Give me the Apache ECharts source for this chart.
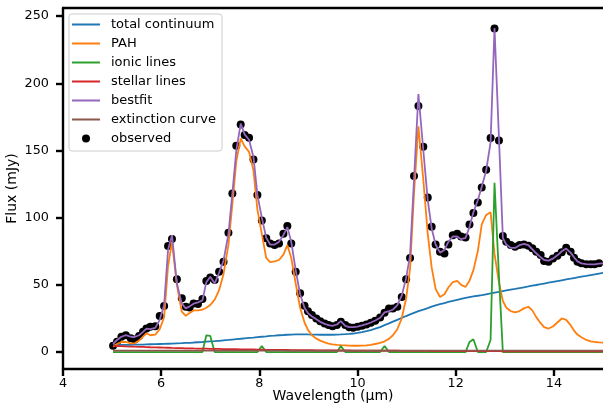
<!DOCTYPE html>
<html>
<head>
<meta charset="utf-8">
<script src="https://cdn.jsdelivr.net/npm/echarts@6/dist/echarts.min.js"></script>
<style>
  html, body { margin: 0; padding: 0; background: #fff; }
  #chart { width: 603px; height: 410px; }
</style>
</head>
<body>
<div id="chart"></div>
<script>
// Wavelength grid of the spectrum (micron)
const wavelength = [
  5.02, 5.10, 5.19, 5.28, 5.38, 5.46, 5.55, 5.63, 5.70, 5.78,
  5.88, 5.97, 6.06, 6.14, 6.22, 6.32, 6.42, 6.50, 6.58, 6.66,
  6.75, 6.84, 6.92, 7.00, 7.09, 7.18, 7.27, 7.37, 7.45, 7.53,
  7.62, 7.70, 7.79, 7.88, 7.96, 8.05, 8.14, 8.22, 8.31, 8.40,
  8.49, 8.57, 8.65, 8.74, 8.83, 8.92, 8.99, 9.07, 9.16, 9.24,
  9.33, 9.41, 9.49, 9.58, 9.66, 9.75, 9.83, 9.91, 10.00, 10.09,
  10.18, 10.27, 10.36, 10.46, 10.55, 10.64, 10.72, 10.81, 10.90, 10.99,
  11.07, 11.15, 11.24, 11.34, 11.43, 11.51, 11.59, 11.68, 11.77, 11.85,
  11.94, 12.03, 12.11, 12.20, 12.28, 12.36, 12.45, 12.53, 12.62, 12.71,
  12.79, 12.88, 12.96, 13.03, 13.12, 13.21, 13.30, 13.39, 13.48, 13.56,
  13.64, 13.73, 13.80, 13.89, 13.98, 14.07, 14.16, 14.25, 14.34, 14.41,
  14.48, 14.56, 14.66, 14.75, 14.83, 14.92, 15.01
];

// Measured flux (mJy)
const observedFlux = [
  4.7, 7.7, 11.4, 12.6, 10.2, 9.4, 11.9, 15.1, 17.6, 18.8,
  19.3, 26.8, 34.2, 78.9, 84.1, 54.1, 40.0, 33.7, 33.2, 36.2,
  35.7, 39.4, 52.8, 55.5, 53.6, 59.7, 67.2, 88.8, 118.0, 153.5,
  169.4, 161.5, 159.5, 143.3, 116.8, 97.8, 84.6, 80.8, 79.6, 80.8,
  88.0, 93.8, 80.8, 59.7, 43.8, 34.5, 30.3, 27.5, 25.0, 23.0,
  21.3, 20.1, 19.3, 20.1, 22.5, 20.1, 18.4, 18.1, 18.8, 19.6,
  20.6, 21.8, 23.3, 25.8, 29.2, 32.5, 32.5, 33.7, 41.0, 54.1,
  70.0, 131.0, 183.0, 152.8, 115.0, 93.2, 80.0, 74.6, 73.4, 80.0,
  87.0, 88.0, 86.0, 85.3, 95.0, 103.4, 111.3, 122.4, 135.6, 159.2,
  240.8, 157.5, 86.4, 82.1, 79.6, 78.4, 79.6, 80.1, 79.1, 77.2,
  74.7, 72.2, 67.7, 67.2, 69.7, 71.7, 74.2, 77.6, 74.7, 70.2,
  67.2, 66.0, 65.3, 65.3, 65.3, 66.0, 66.3
];

// Total model
const bestfitFlux = [
  6.0, 9.0, 11.4, 12.6, 11.4, 11.2, 12.5, 15.0, 17.5, 17.0,
  18.0, 24.0, 35.0, 76.0, 87.0, 51.0, 36.0, 32.5, 34.0, 36.0,
  37.0, 38.5, 52.0, 56.0, 51.0, 59.0, 68.0, 88.0, 118.0, 150.0,
  170.0, 162.0, 158.0, 145.0, 117.0, 100.0, 85.0, 80.0, 80.0, 82.0,
  87.0, 93.0, 82.0, 61.0, 43.0, 33.0, 29.0, 26.5, 24.5, 22.5,
  21.0, 20.0, 19.5, 20.5, 23.0, 19.5, 18.5, 18.5, 19.0, 19.8,
  20.8, 22.0, 23.5, 25.5, 29.5, 30.5, 31.5, 35.0, 42.0, 55.0,
  72.0, 128.0, 192.0, 150.0, 113.0, 92.0, 80.0, 74.0, 76.0, 82.0,
  86.0, 86.0, 84.0, 85.0, 93.0, 104.0, 113.0, 123.0, 135.0, 156.0,
  241.0, 160.0, 85.0, 80.0, 77.5, 77.5, 79.5, 80.5, 79.5, 76.5,
  73.5, 70.5, 68.5, 68.0, 69.5, 72.0, 75.0, 77.0, 74.0, 70.5,
  67.5, 66.0, 65.5, 65.3, 65.3, 65.8, 66.0
];

// Dust continuum component
const continuumFlux = [
  5.2, 5.2, 5.3, 5.3, 5.4, 5.5, 5.6, 5.6, 5.7, 5.8,
  5.9, 6.0, 6.1, 6.2, 6.3, 6.5, 6.6, 6.8, 6.9, 7.1,
  7.3, 7.5, 7.7, 7.9, 8.1, 8.4, 8.7, 9.0, 9.3, 9.6,
  9.9, 10.2, 10.5, 10.8, 11.1, 11.4, 11.7, 12.0, 12.2, 12.5,
  12.7, 12.9, 13.0, 13.1, 13.2, 13.2, 13.1, 13.0, 13.0, 12.9,
  12.9, 12.9, 12.9, 13.0, 13.1, 13.3, 13.5, 13.8, 14.3, 14.9,
  15.6, 16.4, 17.4, 18.6, 20.0, 21.3, 22.6, 24.0, 25.4, 26.8,
  28.0, 29.2, 30.4, 31.6, 32.7, 33.8, 34.7, 35.6, 36.5, 37.3,
  38.1, 38.9, 39.6, 40.3, 40.9, 41.4, 41.9, 42.4, 43.0, 43.6,
  44.2, 44.8, 45.4, 45.9, 46.5, 47.0, 47.6, 48.2, 48.8, 49.4,
  49.9, 50.5, 51.0, 51.6, 52.2, 52.8, 53.4, 54.0, 54.6, 55.1,
  55.6, 56.1, 56.7, 57.3, 57.8, 58.4, 59.0
];

// PAH features
const pahFlux = [
  4.0, 6.0, 7.5, 7.5, 6.5, 6.5, 8.5, 11.5, 14.0, 12.5,
  13.0, 17.0, 26.0, 64.0, 82.0, 50.0, 30.0, 27.0, 29.0, 31.0,
  31.0, 31.5, 33.0, 35.0, 39.0, 46.0, 58.0, 80.0, 110.0, 142.0,
  159.0, 153.0, 149.0, 135.0, 106.0, 88.0, 70.0, 67.0, 67.5, 68.5,
  72.5, 79.5, 70.0, 51.0, 33.0, 22.0, 16.5, 12.5, 10.0, 8.5,
  7.2, 6.3, 5.8, 5.4, 5.2, 5.0, 4.8, 4.7, 4.7, 4.8,
  5.0, 5.4, 6.0, 6.8, 8.0, 9.8, 12.5, 17.0, 25.0, 40.0,
  62.0, 118.0, 168.0, 128.0, 88.0, 63.0, 47.0, 41.0, 43.0, 48.0,
  52.0, 53.0, 50.0, 48.5, 53.0, 61.0, 75.0, 95.0, 102.0, 104.0,
  73.0, 52.0, 38.0, 33.0, 30.5, 29.5, 30.5, 32.5, 33.7, 31.0,
  26.0, 21.5, 18.5, 17.5, 19.0, 22.0, 25.0, 24.0, 20.0, 16.0,
  13.0, 11.0, 9.0, 8.0, 7.5, 7.2, 7.0
];

// Fine-structure ionic lines
const ionicFlux = [
  0, 0, 0, 0, 0, 0, 0, 0, 0, 0,
  0, 0, 0, 0, 0, 0, 0, 0, 0, 0,
  0, 0, 12.5, 12.0, 0, 0, 0, 0, 0, 0,
  0, 0, 0, 0, 0, 4.5, 0, 0, 0, 0,
  0, 0, 0, 0, 0, 0, 0, 0, 0, 0,
  0, 0, 0, 0, 4.5, 0, 0, 0, 0, 0,
  0, 0, 0, 0, 4.5, 0, 0, 0, 0, 0,
  0, 0, 0, 0, 0, 0, 0, 0, 0, 0,
  0, 0, 0, 0, 7.5, 9.5, 0, 0, 0, 9.0,
  126.0, 57.0, 0, 0, 0, 0, 0, 0, 0, 0,
  0, 0, 0, 0, 0, 0, 0, 0, 0, 0,
  0, 0, 0, 0, 0, 0, 0
];

// Stellar photosphere
const stellarFlux = [
  4.6, 4.5, 4.4, 4.2, 4.1, 4.0, 3.9, 3.8, 3.7, 3.6,
  3.5, 3.4, 3.3, 3.2, 3.1, 3.0, 2.9, 2.8, 2.8, 2.7,
  2.6, 2.5, 2.5, 2.4, 2.4, 2.3, 2.2, 2.2, 2.1, 2.1,
  2.0, 2.0, 1.9, 1.9, 1.8, 1.8, 1.7, 1.7, 1.7, 1.6,
  1.6, 1.6, 1.5, 1.5, 1.5, 1.4, 1.4, 1.4, 1.3, 1.3,
  1.3, 1.3, 1.2, 1.2, 1.2, 1.2, 1.2, 1.1, 1.1, 1.1,
  1.1, 1.1, 1.0, 1.0, 1.0, 1.0, 1.0, 1.0, 0.9, 0.9,
  0.9, 0.9, 0.9, 0.9, 0.9, 0.8, 0.8, 0.8, 0.8, 0.8,
  0.8, 0.8, 0.8, 0.7, 0.7, 0.7, 0.7, 0.7, 0.7, 0.7,
  0.7, 0.7, 0.6, 0.6, 0.6, 0.6, 0.6, 0.6, 0.6, 0.6,
  0.6, 0.6, 0.6, 0.5, 0.5, 0.5, 0.5, 0.5, 0.5, 0.5,
  0.5, 0.5, 0.5, 0.5, 0.5, 0.5, 0.5
];

// Extinction (transmission) curve
const extinctionCurve = [
  1.00, 1.00, 1.00, 1.00, 1.00, 1.00, 1.00, 1.00, 1.00, 1.00,
  1.00, 1.00, 1.00, 1.00, 1.00, 1.00, 1.00, 1.00, 1.00, 1.00,
  1.00, 1.00, 1.00, 1.00, 1.00, 1.00, 1.00, 1.00, 1.00, 1.00,
  1.00, 1.00, 1.00, 1.00, 1.00, 1.00, 1.00, 1.00, 1.00, 1.00,
  1.00, 0.99, 0.99, 0.99, 0.99, 0.99, 0.99, 0.99, 0.98, 0.98,
  0.98, 0.98, 0.98, 0.98, 0.98, 0.98, 0.98, 0.98, 0.98, 0.98,
  0.98, 0.99, 0.99, 0.99, 0.99, 0.99, 0.99, 0.99, 1.00, 1.00,
  1.00, 1.00, 1.00, 1.00, 1.00, 1.00, 1.00, 1.00, 1.00, 1.00,
  1.00, 1.00, 1.00, 1.00, 1.00, 1.00, 1.00, 1.00, 1.00, 1.00,
  1.00, 1.00, 1.00, 1.00, 1.00, 1.00, 1.00, 1.00, 1.00, 1.00,
  1.00, 1.00, 1.00, 1.00, 1.00, 1.00, 1.00, 1.00, 1.00, 1.00,
  1.00, 1.00, 1.00, 1.00, 1.00, 1.00, 1.00
];

const xTicks = [4, 6, 8, 10, 12, 14];
const yTicks = [0, 50, 100, 150, 200, 250];

const seriesNames = ['total continuum', 'PAH', 'ionic lines', 'stellar lines',
                     'bestfit', 'extinction curve', 'observed'];
const colors = {
  'total continuum': '#1f77b4',
  'PAH': '#ff7f0e',
  'ionic lines': '#2ca02c',
  'stellar lines': '#d62728',
  'bestfit': '#9467bd',
  'extinction curve': '#8c564b'
};

const pairs = ys => wavelength.map((w, i) => [w, ys[i]]);

const FONT = 'DejaVu Sans';
const INK = '#000';
// Legend handle: a 2px horizontal stroke inside a 28x8 box
const LINE_HANDLE = 'path://M0,0M28,8M0,3L28,3L28,5L0,5Z';

function lineSeries(name, ys) {
  return {
    name: name,
    type: 'line',
    data: pairs(ys),
    symbol: 'none',
    showSymbol: false,
    smooth: false,
    z: 2,
    color: colors[name],
    itemStyle: { color: colors[name] },
    lineStyle: { color: colors[name], width: 1.8 },
    emphasis: { disabled: true },
    animation: false
  };
}

const chart = echarts.init(document.getElementById('chart'), null, { renderer: 'canvas' });

const axisCommon = {
  axisLine: { show: true, onZero: false, lineStyle: { color: INK, width: 2.4 } },
  splitLine: { show: false }
};

chart.setOption({
  animation: false,
  backgroundColor: '#fff',
  textStyle: { fontFamily: FONT },
  grid: { left: 63, right: 0, top: 8, bottom: 41, containLabel: false, outerBoundsMode: 'none' },
  legend: {
    data: seriesNames.map(n => ({ name: n, icon: n === 'observed' ? 'circle' : LINE_HANDLE })),
    orient: 'vertical',
    left: 69,
    top: 14,
    padding: [3, 6, 5, 3],
    itemWidth: 28,
    itemHeight: 8,
    itemGap: 4,
    backgroundColor: 'rgba(255,255,255,0.8)',
    borderColor: '#cccccc',
    borderWidth: 1,
    borderRadius: 3,
    textStyle: { fontFamily: FONT, fontSize: 13, color: INK, lineHeight: 15, padding: [0, 0, 0, 6] },
    selectedMode: false
  },
  xAxis: [
    Object.assign({}, axisCommon, {
      type: 'value',
      min: 4,
      max: 15,
      name: 'Wavelength (\u03bcm)',
      nameLocation: 'middle',
      nameGap: 20,
      nameMoveOverlap: false,
      nameTextStyle: { fontFamily: FONT, fontSize: 14, color: INK },
      axisTick: { show: true, inside: false, length: 7, lineStyle: { color: INK, width: 2.4 }, customValues: xTicks },
      axisLabel: { margin: 8, fontFamily: FONT, fontSize: 12.8, color: INK, customValues: xTicks }
    }),
    {
      type: 'value',
      position: 'top',
      min: 4,
      max: 15,
      axisLine: { show: true, onZero: false, lineStyle: { color: INK, width: 2.4 } },
      axisTick: { show: false },
      axisLabel: { show: false },
      splitLine: { show: false }
    }
  ],
  yAxis: Object.assign({}, axisCommon, {
    type: 'value',
    min: -12.6,
    max: 256,
    name: 'Flux (mJy)',
    nameLocation: 'middle',
    nameGap: 44,
    nameMoveOverlap: false,
    nameTextStyle: { fontFamily: FONT, fontSize: 14, color: INK },
    axisTick: { show: true, inside: false, length: 7, lineStyle: { color: INK, width: 2.4 }, customValues: yTicks },
    axisLabel: { margin: 14, fontFamily: FONT, fontSize: 12.8, color: INK, customValues: yTicks }
  }),
  series: seriesNames.slice(0, 6).map((n, i) =>
    lineSeries(n, [continuumFlux, pahFlux, ionicFlux, stellarFlux, bestfitFlux, extinctionCurve][i])
  ).concat([{
    name: 'observed',
    type: 'scatter',
    data: pairs(observedFlux),
    symbol: 'circle',
    symbolSize: 8,
    z: 1,
    color: '#000',
    itemStyle: { color: '#000', opacity: 1 },
    emphasis: { disabled: true },
    animation: false
  }])
});
</script>
</body>
</html>
